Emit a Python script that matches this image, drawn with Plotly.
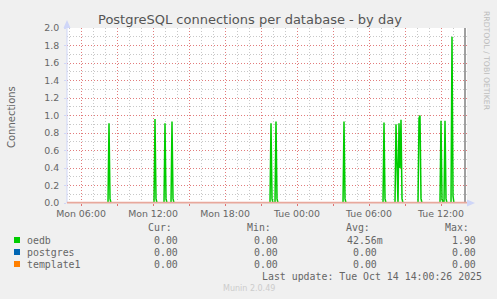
import plotly.graph_objects as go
import pandas as pd

# ---------------- data ----------------
title = "PostgreSQL connections per database - by day"
series_names = ["oedb", "postgres", "template1"]
series_colors = ["#00CC00", "#0066B3", "#FF8000"]

# oedb: 5-minute samples that are non-zero (everything else is 0)
oedb_times = ["2025-10-13 08:20", "2025-10-13 08:25", "2025-10-13 12:10", "2025-10-13 12:15",
              "2025-10-13 13:00", "2025-10-13 13:05", "2025-10-13 13:35", "2025-10-13 13:40",
              "2025-10-13 21:50", "2025-10-13 21:55", "2025-10-13 22:15", "2025-10-13 22:20",
              "2025-10-14 03:55", "2025-10-14 04:00", "2025-10-14 07:15", "2025-10-14 07:20",
              "2025-10-14 08:15", "2025-10-14 08:20", "2025-10-14 08:30", "2025-10-14 08:35",
              "2025-10-14 08:40", "2025-10-14 08:45", "2025-10-14 10:10", "2025-10-14 10:15",
              "2025-10-14 10:20", "2025-10-14 12:00", "2025-10-14 12:05", "2025-10-14 12:20",
              "2025-10-14 12:25", "2025-10-14 12:55", "2025-10-14 13:00"]
oedb_values = [0.91, 0.05, 0.96, 0.05,
               0.91, 0.05, 0.93, 0.05,
               0.91, 0.05, 0.93, 0.05,
               0.93, 0.05, 0.92, 0.05,
               0.90, 0.30, 0.91, 0.40,
               0.95, 0.05, 0.97, 1.00,
               0.05, 0.94, 0.05, 0.94,
               0.05, 1.90, 0.08]
postgres_values_const = 0.0
template1_values_const = 0.0

series_start = "2025-10-13 04:50"
series_end = "2025-10-14 14:00"
x_range = ["2025-10-13 04:50", "2025-10-14 14:10"]
now_time = "2025-10-14 14:00"

major_ticks = ["2025-10-13 06:00", "2025-10-13 09:00", "2025-10-13 12:00", "2025-10-13 15:00",
               "2025-10-13 18:00", "2025-10-13 21:00", "2025-10-14 00:00", "2025-10-14 03:00",
               "2025-10-14 06:00", "2025-10-14 09:00", "2025-10-14 12:00"]
major_text = ["Mon 06:00", "", "Mon 12:00", "", "Mon 18:00", "", "Tue 00:00", "",
              "Tue 06:00", "", "Tue 12:00"]

y_ticks = [0.0, 0.2, 0.4, 0.6, 0.8, 1.0, 1.2, 1.4, 1.6, 1.8, 2.0]

stat_headers = ["Cur:", "Min:", "Avg:", "Max:"]
stats = {
    "oedb": ["0.00", "0.00", "42.56m", "1.90"],
    "postgres": ["0.00", "0.00", "0.00", "0.00"],
    "template1": ["0.00", "0.00", "0.00", "0.00"],
}
last_update = "Last update: Tue Oct 14 14:00:26 2025"
footer = "Munin 2.0.49"
side_text = "RRDTOOL / TOBI OETIKER"

# ---------------- build series ----------------
t = pd.date_range(series_start, series_end, freq="5min")
oedb = pd.Series(0.0, index=t)
for ts, v in zip(oedb_times, oedb_values):
    oedb[pd.Timestamp(ts)] = v
postgres = pd.Series(postgres_values_const, index=t)
template1 = pd.Series(template1_values_const, index=t)

# ---------------- geometry ----------------
W, H = 497, 299
L, R, T, B = 67, 467, 28, 203


def px(x):
    return (x - L) / (R - L)


def py(y):
    return (B - y) / (B - T)


FONT = "DejaVu Sans"
MONO = "DejaVu Sans Mono"
TXT = "#666666"

fig = go.Figure()
for name, s, c in [("postgres", postgres, series_colors[1]),
                   ("template1", template1, series_colors[2]),
                   ("oedb", oedb, series_colors[0])]:
    fig.add_trace(go.Scatter(x=s.index, y=s.values, mode="lines", name=name,
                             line=dict(color=c, width=1.5), showlegend=False,
                             hoverinfo="skip"))

shapes = []
# now line
shapes.append(dict(type="line", xref="x", yref="paper", x0=now_time, x1=now_time,
                   y0=0, y1=1, line=dict(color="#A0A0A0", width=2)))
# left axis line + arrow
shapes.append(dict(type="line", xref="paper", yref="paper", x0=0, x1=0, y0=0, y1=py(22),
                   line=dict(color="#CFD6F8", width=1)))
shapes.append(dict(type="path", xref="paper", yref="paper",
                   path=f"M {px(63.5)} {py(28)} L {px(70.5)} {py(28)} L {px(67)} {py(20)} Z",
                   fillcolor="#CFD6F8", line=dict(width=0)))
# bottom axis line + arrow
shapes.append(dict(type="line", xref="paper", yref="paper", x0=0, x1=px(468),
                   y0=py(202.6), y1=py(202.6),
                   line=dict(color="#E8A89C", width=1.6)))
shapes.append(dict(type="path", xref="paper", yref="paper",
                   path=f"M {px(467)} {py(199.5)} L {px(467)} {py(206.5)} L {px(475)} {py(203)} Z",
                   fillcolor="#CFD6F8", line=dict(width=0)))
# legend squares
rows_y = [240, 252, 264]
for yy, c in zip(rows_y, series_colors):
    shapes.append(dict(type="rect", xref="paper", yref="paper",
                       x0=px(14), x1=px(20), y0=py(yy - 3), y1=py(yy + 3),
                       fillcolor=c, line=dict(width=0)))

ann = []
ann.append(dict(text=title, x=px(249.5), y=py(19.5), xref="paper", yref="paper",
                showarrow=False, xanchor="center", yanchor="middle",
                font=dict(family=FONT, size=13, color="#555555")))
ann.append(dict(text="Connections", x=px(11), y=py(117), xref="paper", yref="paper",
                showarrow=False, textangle=-90, xanchor="center", yanchor="middle",
                font=dict(family=FONT, size=10, color=TXT)))
ann.append(dict(text=side_text, x=px(487), y=py(61), xref="paper", yref="paper",
                showarrow=False, textangle=90, xanchor="center", yanchor="middle",
                font=dict(family=FONT, size=7.7, color="#BDBDBD")))

header_right = [172.5, 272, 371, 470]
value_right = [179, 279, 378, 477]
for h, xr in zip(stat_headers, header_right):
    ann.append(dict(text=h, x=px(xr), y=py(227.5), xref="paper", yref="paper",
                    showarrow=False, xanchor="right", yanchor="middle",
                    font=dict(family=MONO, size=9.9, color=TXT)))
for name, yy in zip(series_names, rows_y):
    ann.append(dict(text=name, x=px(25.5), y=py(yy), xref="paper", yref="paper",
                    showarrow=False, xanchor="left", yanchor="middle",
                    font=dict(family=MONO, size=9.9, color=TXT)))
    for i, (v, xr) in enumerate(zip(stats[name], value_right)):
        if v.endswith("m"):
            xr = xr + 6
        ann.append(dict(text=v, x=px(xr), y=py(yy), xref="paper", yref="paper",
                        showarrow=False, xanchor="right", yanchor="middle",
                        font=dict(family=MONO, size=9.9, color=TXT)))
ann.append(dict(text=last_update, x=px(482.5), y=py(276), xref="paper", yref="paper",
                showarrow=False, xanchor="right", yanchor="middle",
                font=dict(family=MONO, size=9.9, color=TXT)))
ann.append(dict(text=footer, x=px(249), y=py(288), xref="paper", yref="paper",
                showarrow=False, xanchor="center", yanchor="middle",
                font=dict(family=FONT, size=8, color="#CCCCCC")))
for a in ann:
    a["borderpad"] = 0

fig.update_layout(
    width=W, height=H,
    margin=dict(l=L, r=W - R, t=T, b=H - B, pad=0),
    paper_bgcolor="#F0F0F0", plot_bgcolor="#FFFFFF",
    showlegend=False,
    shapes=shapes, annotations=ann,
    font=dict(family=FONT, size=9.4, color=TXT),
    xaxis=dict(
        type="date", range=x_range, tickmode="array", tickvals=major_ticks, ticktext=major_text,
        showgrid=True, gridcolor="rgba(230,110,110,0.85)", griddash="1px,2px", gridwidth=1,
        ticks="outside", ticklen=2, tickcolor="#E07070", showline=False, zeroline=False,
        tickfont=dict(family=FONT, size=9.4, color=TXT),
        minor=dict(tickmode="linear", tick0="2025-10-13 00:00", dtick=3600000, showgrid=True,
                   gridcolor="#C8C8C8", griddash="1px,2px", gridwidth=1, ticks=""),
    ),
    yaxis=dict(
        range=[0, 2.0], tickmode="array", tickvals=y_ticks, tickformat=".1f",
        showgrid=True, gridcolor="rgba(230,110,110,0.85)", griddash="1px,2px", gridwidth=1,
        ticks="outside", ticklen=2, tickcolor="#CFD6F8", showline=False, zeroline=False,
        tickfont=dict(family=FONT, size=9.4, color=TXT), ticklabelstandoff=3,
        minor=dict(tickmode="linear", tick0=0, dtick=0.1, showgrid=True,
                   gridcolor="#C8C8C8", griddash="1px,2px", gridwidth=1, ticks=""),
    ),
)

fig.write_html("out.html")
